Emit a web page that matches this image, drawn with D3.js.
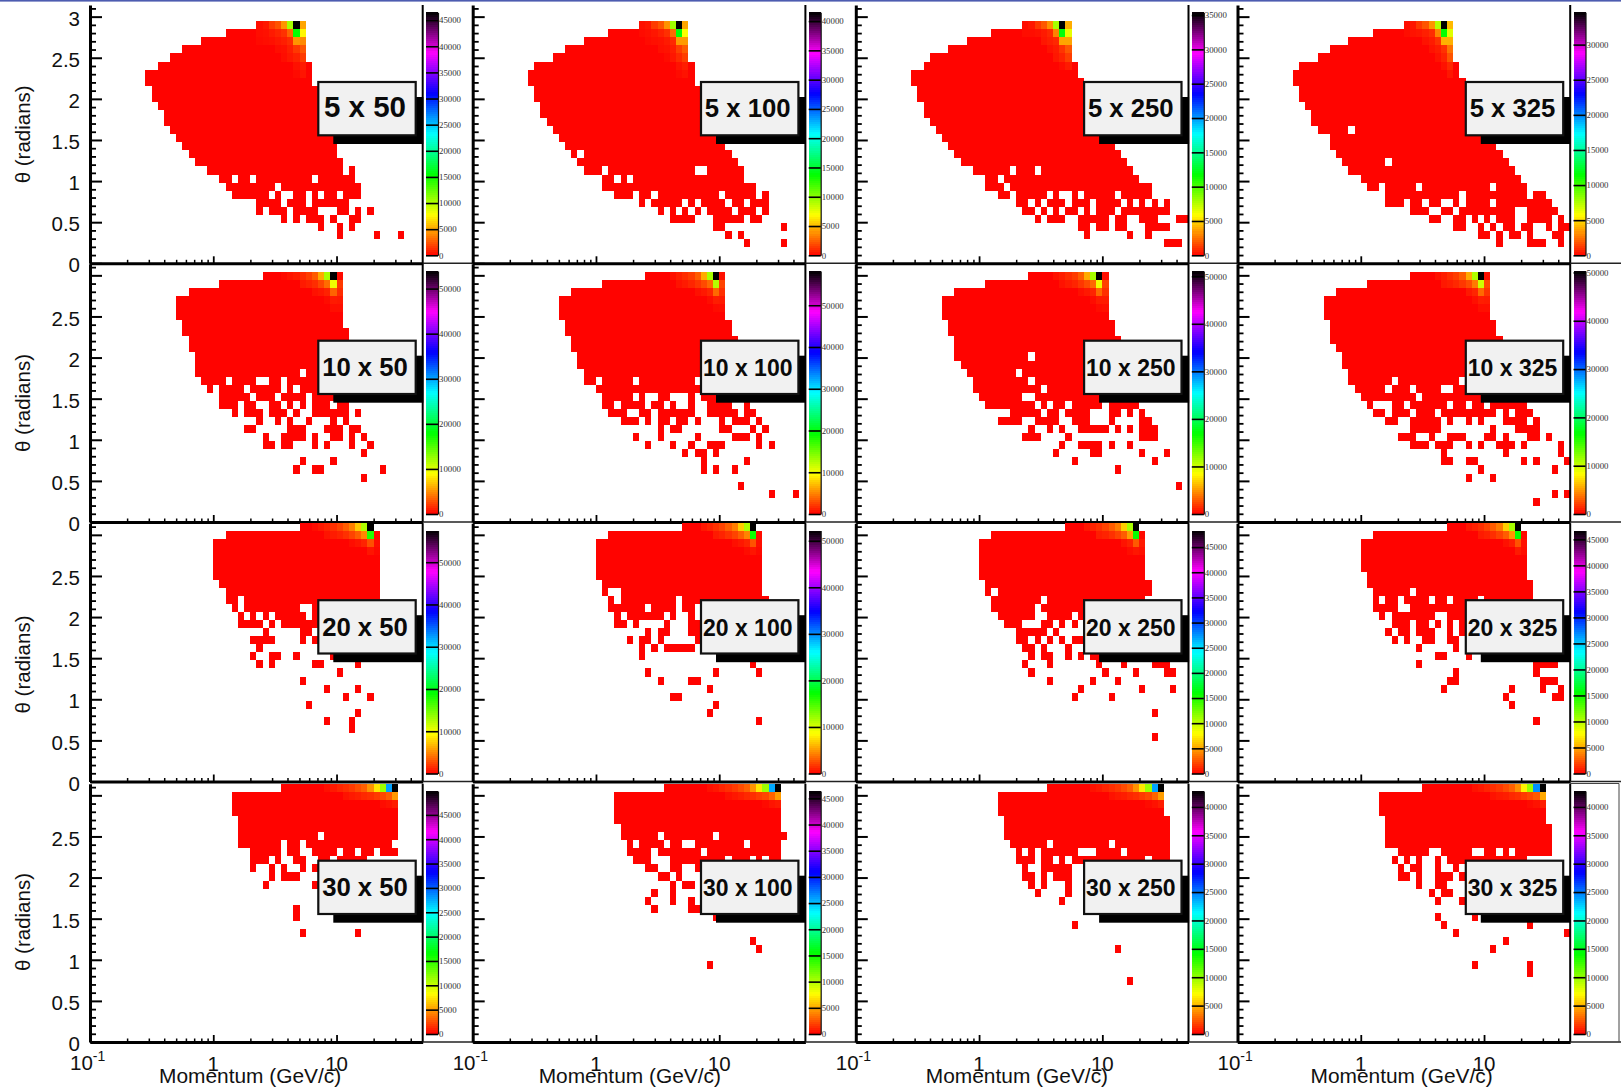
<!DOCTYPE html>
<html>
<head>
<meta charset="utf-8">
<script src="https://cdn.jsdelivr.net/npm/d3@7"></script>
<style>
body { margin: 0; background: #fff; }
svg { display: block; font-family: "Liberation Sans", sans-serif; }
</style>
</head>
<body>
<svg id="chart" width="1621" height="1088"></svg>
<script>
var labels = ["5 x 50", "5 x 100", "5 x 250", "5 x 325", "10 x 50", "10 x 100", "10 x 250", "10 x 325",
	"20 x 50", "20 x 100", "20 x 250", "20 x 325", "30 x 50", "30 x 100", "30 x 250", "30 x 325"];
var zMax = [46500, 41500, 35400, 34600, 53900, 58200, 51100, 50300, 57500, 52200, 48300, 46700, 49900, 46400, 42800, 42800];
var zStep = [5000, 5000, 5000, 5000, 10000, 10000, 10000, 10000, 10000, 10000, 5000, 5000, 5000, 5000, 5000, 5000];
var thetaTicks = [0, 0.5, 1, 1.5, 2, 2.5, 3];
var thetaMinor = [0.1, 0.2, 0.3, 0.4, 0.6, 0.7, 0.8, 0.9, 1.1, 1.2, 1.3, 1.4, 1.6, 1.7, 1.8, 1.9, 2.1, 2.2, 2.3, 2.4, 2.6, 2.7, 2.8, 2.9, 3.1];
var momentumTicks = [0.1, 1, 10];
var momentumMinor = [0.2, 0.3, 0.4, 0.5, 0.6, 0.7, 0.8, 0.9, 2, 3, 4, 5, 6, 7, 8, 9, 20, 30, 40];

// filled bins: [theta row, from col, to col, from col, to col, ...]
var spans_5x50 = [[29,27,34],[28,22,34],[27,18,34],[26,15,34],[25,13,34],[24,11,35],[23,9,35],[22,9,35],[21,10,38],[20,10,38],[19,11,39],[18,12,39],[17,12,39],[16,13,39],[15,14,39],[14,15,39],[13,16,39],[12,17,40],[11,19,40,42,42],[10,21,22,24,25,27,35,37,42],[9,22,29,31,43],[8,23,28,30,30,33,34,36,36,38,39,41,43],[7,27,30,32,34,36,41],[6,27,27,29,31,33,36,40,41,43,43,45,45],[5,31,31,33,33,35,37,39,39,42,43],[4,37,37,40,40,42,42],[3,40,40,46,46,50,50]];
var spans_5x100 = [[29,27,34],[28,22,34],[27,18,34],[26,15,34],[25,13,34],[24,10,35],[23,9,35],[22,9,35],[21,10,38],[20,10,38],[19,11,39],[18,11,39],[17,12,39],[16,13,39],[15,14,39],[14,15,40],[13,16,16,18,41],[12,17,42],[11,18,20,22,35,38,43],[10,21,22,24,24,26,43],[9,21,45],[8,23,25,27,28,30,39,41,45,47,47],[7,27,27,29,33,35,35,37,40,42,43,45,47],[6,30,30,32,32,34,34,36,36,38,41,43,45,47,47],[5,32,35,39,43,45,46],[4,39,40,50,50],[3,41,41,43,43],[2,44,44,50,50]];
var spans_5x250 = [[29,27,34],[28,22,34],[27,18,34],[26,15,34],[25,12,34],[24,11,35],[23,9,35],[22,9,36],[21,10,38],[20,10,38],[19,11,39],[18,11,39],[17,12,39],[16,13,39],[15,14,40],[14,15,41],[13,16,42],[12,17,43],[11,19,24,26,28,30,44],[10,21,22,24,45],[9,21,23,25,47],[8,23,24,26,30,32,32,35,35,37,41,43,47],[7,26,27,29,29,31,33,35,37,39,42,44,44,46,46,48,48,50,50],[6,27,28,30,30,32,32,34,35,37,37,39,41,43,50],[5,29,29,31,33,36,40,42,43,46,48,52,53],[4,36,37,39,40,42,43,47,50],[3,37,37,44,44,47,47],[2,50,52]];
var spans_5x325 = [[29,27,34],[28,22,34],[27,18,34],[26,15,34],[25,13,34],[24,10,35],[23,9,35],[22,9,36],[21,10,38],[20,10,38],[19,11,39],[18,12,39],[17,12,39],[16,13,17,19,39],[15,15,39],[14,15,41],[13,16,42],[12,17,23,25,43],[11,18,44],[10,20,45],[9,21,22,24,28,30,40,42,46],[8,24,35,37,46,48,49],[7,24,26,28,29,31,32,35,35,37,40,42,50],[6,28,30,33,34,36,44,47,51],[5,31,32,35,36,38,38,40,40,42,44,47,50,52,52],[4,35,36,39,39,41,41,43,44,46,47,50,50,52,53],[3,39,40,42,42,44,45,47,47,51,52],[2,42,42,47,49,52,52]];
var spans_10x50 = [[30,28,40],[29,21,40],[28,16,40],[27,14,40],[26,14,40],[25,14,40],[24,15,40],[23,15,41],[22,16,41],[21,16,41],[20,17,42],[19,17,42],[18,17,33,35,42],[17,18,21,23,26,29,30,32,42],[16,19,19,21,24,26,30,32,32,34,42],[15,21,25,27,29,31,34,36,42],[14,21,23,25,26,29,30,32,32,34,34,36,38,40,41],[13,23,23,25,27,29,31,33,33,36,41,43,43],[12,27,27,30,30,32,32,35,35,39,39,41,41],[11,25,26,32,34,38,40,42,43],[10,28,28,31,34,36,36,39,40,42,42,44,44],[9,28,29,31,32,36,36,38,38,42,42,45,45],[8,44,44],[7,34,34,39,39],[6,33,33,36,37,47,47],[5,44,44]];
var spans_10x100 = [[30,28,40],[29,21,40],[28,16,40],[27,14,40],[26,14,40],[25,14,40],[24,15,41],[23,15,41],[22,16,42],[21,16,42],[20,17,42],[19,17,42],[18,18,42],[17,18,19,21,25,27,35,37,42],[16,20,42],[15,21,25,27,27,30,31,35,35,37,42],[14,21,22,24,27,29,30,32,32,35,35,38,41,44,44],[13,22,24,27,28,30,35,38,42,44,45],[12,24,26,28,28,30,31,33,34,36,36,40,40,42,44,46,46],[11,30,30,32,33,40,41,45,45,47,47],[10,26,26,30,30,36,36,42,44,46,46],[9,28,28,32,32,35,35,38,40,46,46,48,48],[8,34,34,36,37,39,39],[7,37,37,44,44],[6,37,37,39,39,42,42],[4,43,43],[3,48,48,52,52]];
var spans_10x250 = [[30,28,40],[29,21,40],[28,16,40],[27,14,40],[26,14,40],[25,14,40],[24,15,41],[23,15,41],[22,16,42],[21,16,42],[20,16,27,29,42],[19,17,42],[18,18,25,27,42],[17,19,27,29,42],[16,19,29,31,42],[15,20,26,29,42],[14,21,28,30,30,32,33,35,39,41,45],[13,25,29,31,32,34,37,41,42,44,44,46,46],[12,23,26,29,32,35,37,41,41,46,47],[11,28,28,31,31,33,33,36,40,42,42,44,44,46,48],[10,27,29,34,34,46,48],[9,33,33,36,39,41,41,44,44],[8,32,32,38,39,46,46,50,50],[7,35,35,48,48],[6,42,42],[4,52,52]];
var spans_10x325 = [[30,28,40],[29,21,40],[28,16,40],[27,14,40],[26,14,40],[25,14,40],[24,15,41],[23,15,41],[22,15,42],[21,16,42],[20,17,42],[19,17,42],[18,18,42],[17,18,24,26,35,37,42],[16,19,23,25,27,29,32,35,42],[15,20,28,30,42],[14,21,21,25,26,28,33,35,36,38,39,41,46],[13,22,23,25,27,29,31,33,41,43,43,45,47],[12,24,25,28,32,34,34,37,37,39,39,43,45,46,46,48,48],[11,28,32,41,41,45,48],[10,26,28,31,31,34,36,40,41,43,43,47,48,50,50],[9,28,30,32,34,37,37,39,39,42,44,46,46,52,52],[8,33,33,43,43,52,52],[7,33,34,37,38,46,46,48,48,53,53],[6,39,39,51,51],[5,37,37,41,41],[3,51,51,53,53],[2,48,48]];
var spans_20x50 = [[31,34,45],[30,22,46],[29,20,46],[28,20,46],[27,20,46],[26,20,46],[25,20,46],[24,21,46],[23,22,46],[22,22,23,25,46],[21,23,23,25,33,36,46],[20,24,24,26,26,28,28,30,33,34,34,36,44],[19,24,27,29,29,31,33,34,42],[18,28,28,34,35],[17,26,29,34,34,36,36],[16,27,27],[15,26,26,29,30,33,33,39,39],[14,27,27,29,29,36,37,43,43],[13,40,40],[12,34,34],[11,38,38,43,43],[10,41,41,45,45],[9,35,35],[8,43,43],[7,38,38,42,42],[6,42,42]];
var spans_20x100 = [[31,34,45],[30,22,46],[29,20,46],[28,20,46],[27,20,46],[26,20,46],[25,20,46],[24,21,46],[23,21,21,24,46],[22,22,22,24,32,34,47],[21,22,27,29,32,34,35,37,46],[20,23,23,25,30,32,32,35,35,37,44],[19,23,24,26,26,31,31,35,36],[18,28,28,30,31,35,36],[17,25,25,27,28,30,30,36,36],[16,27,27,29,29,31,35],[15,27,27],[14,45,45],[13,28,28,39,39,46,46],[12,30,30,35,36],[11,38,38],[10,32,33],[9,39,39],[8,38,38],[7,46,46]];
var spans_20x250 = [[31,34,45],[30,22,46],[29,20,46],[28,20,46],[27,20,46],[26,20,46],[25,20,46],[24,21,47],[23,21,21,23,47],[22,22,29,31,46],[21,22,28,30,46],[20,23,28,31,34,36,46],[19,24,26,30,31,33,33,35,35,37,46],[18,26,30,32,32,37,44],[17,26,27,29,29,31,31,33,33,35,36],[16,27,28,30,30,34,34],[15,28,28,30,31,34,34,36,36,38,39],[14,27,27,31,31,39,39,43,43,48,50],[13,28,28,40,40,45,45,50,51],[12,31,31,38,38,42,42],[11,36,36,46,46,51,51],[10,35,35,41,41],[8,48,48],[5,48,48]];
var spans_20x325 = [[31,34,45],[30,22,46],[29,20,46],[28,20,46],[27,20,46],[26,20,46],[25,21,46],[24,21,47],[23,22,27,29,47],[22,22,22,24,25,27,30,32,33,35,38,40,47],[21,22,25,28,46],[20,23,23,25,31,34,46],[19,25,27,29,30,32,32,34,34,36,44],[18,24,24,26,27,29,31,34,34,36,44],[17,25,25,27,27,30,31,34,35,37,42],[16,29,29,35,35],[15,32,33,37,37],[14,29,29,48,51],[13,35,35,48,48],[12,34,35,49,51],[11,33,33,44,44,49,49,52,52],[10,43,43,51,52],[9,44,44],[7,48,48]];
var spans_30x50 = [[31,31,49],[30,23,49],[29,23,49],[28,23,49],[27,24,49],[26,24,49],[25,24,36,38,49],[24,24,30,32,33,35,48],[23,26,30,32,33,36,39,41,42,44,45,47,49],[22,26,28,30,30,33,34,37,38,40,44],[21,26,26,29,29,31,31,34,34,36,36],[20,29,29,31,33],[19,28,28,36,36],[17,37,37],[16,33,33],[15,33,33],[13,34,34,43,43]];
var spans_30x100 = [[31,31,49],[30,23,49],[29,23,49],[28,23,49],[27,23,49],[26,24,49],[25,24,29,31,38,40,50],[24,25,25,27,30,32,33,36,43,45,49],[23,25,28,30,36,38,49],[22,26,28,32,40,42,44,46,46,48,49],[21,28,29,32,33,36,44],[20,30,31,33,33],[19,32,32,34,35],[18,29,29,32,32],[17,28,28,32,32,35,35],[16,29,29,35,36],[15,39,39],[12,45,45],[11,46,46],[9,38,38]];
var spans_30x250 = [[31,31,49],[30,23,49],[29,23,49],[28,23,49],[27,24,50],[26,24,50],[25,24,50],[24,25,30,32,40,42,50],[23,26,26,28,28,30,35,39,42,44,50],[22,26,28,30,31,33,33,35,46,48,50],[21,27,27,30,34,37,46],[20,27,28,30,30,32,34,37,44],[19,28,28,30,30,34,34],[18,29,29,34,34],[17,33,33,37,37],[16,37,37],[14,35,35],[11,42,42],[7,44,44]];
var spans_30x325 = [[31,30,49],[30,23,49],[29,23,49],[28,23,49],[27,24,49],[26,24,50],[25,24,50],[24,24,50],[23,26,30,33,37,40,41,43,43,45,50],[22,25,25,27,27,29,29,32,32,34,46],[21,26,26,28,29,32,32,35,35,37,46],[20,26,27,29,29,32,34,36,44],[19,29,29,32,33],[18,31,31,33,34,37,42],[17,32,32,36,36],[15,32,32,38,38],[14,33,33,47,47],[13,35,35,53,53],[12,43,43],[11,41,41],[9,38,38,47,47],[8,47,47]];

// bins hot enough to show a colour: [theta row, first col, counts...]
var hot_5x50 = [[29,27,400,700,1800,2500,4500,10500,46500,5000],[28,27,400,500,800,1100,1500,3000,15500,7500],[27,27,300,400,500,700,900,1300,4500,4200],[26,30,400,500,900,1700,2600],[25,31,400,700,1000,1800],[24,33,500,800],[23,33,300,600]];
var hot_5x100 = [[29,27,400,600,1600,2300,4000,9500,41500,4500],[28,27,300,400,600,900,1300,2800,14000,7000],[27,28,300,400,500,700,1100,4200,4200],[26,30,400,500,800,1700,2500],[25,31,300,600,1100,1700],[24,33,500,800],[23,33,300,500]];
var hot_5x250 = [[29,27,300,500,1300,2000,3300,8000,35400,4000],[28,27,300,300,400,600,900,3000,12000,6500],[27,30,500,700,900,3800,3800],[26,31,400,600,1200,2000],[25,32,500,800,1400],[24,33,300,600]];
var hot_5x325 = [[29,27,300,500,1300,1900,3300,7500,34600,4200],[28,27,300,400,500,700,1000,3000,11500,6500],[27,30,400,600,1100,4000,4000],[26,31,400,600,1100,2600],[25,32,400,800,1900],[24,33,400,900],[23,34,500]];
var hot_10x50 = [[30,31,400,700,1000,1500,2200,3200,6000,12000,53900,300],[29,34,900,1200,1600,2500,3800,9500,2000],[28,36,600,800,1200,3500,1500],[27,38,400,900,800],[26,39,500,500]];
var hot_10x100 = [[30,32,700,1200,1700,2300,3500,6500,13000,58200,600],[29,33,700,1000,1400,2000,2800,4000,12500,2500],[28,36,600,900,1400,4000,1800],[27,38,500,1100,1000],[26,39,400,500]];
var hot_10x250 = [[30,32,600,1000,1500,2000,3100,5700,11500,51100,500],[29,33,600,900,1200,1800,2500,3500,9000,2200],[28,36,500,800,1200,3500,1600],[27,38,400,900,900],[26,39,400,500]];
var hot_10x325 = [[30,32,600,1000,1500,2000,3000,5600,11000,50300,500],[29,33,800,1000,1300,1800,2500,4000,10000,2400],[28,37,800,1200,3500,1700],[27,38,500,1000,900],[26,39,500,500]];
var hot_20x50 = [[31,36,500,900,1300,1800,2500,3500,4800,7500,12500,57500],[30,38,700,1000,1300,1800,2500,3500,5000,18000,300],[29,42,500,800,1300,3000,500],[28,45,800,300]];
var hot_20x100 = [[31,37,800,1200,1700,2300,3200,4300,7000,11500,52200],[30,39,900,1200,1700,2300,3200,4500,17000,400],[29,42,500,800,1200,2800,500],[28,44,400,700,300]];
var hot_20x250 = [[31,37,700,1100,1500,2100,2900,3900,6500,10800,48300],[30,39,900,1100,1500,2100,2900,5000,16000,300],[29,43,600,1000,2800,800],[28,44,400,700,500]];
var hot_20x325 = [[31,37,700,1000,1400,2000,2800,3800,6300,10500,46700],[30,39,800,1000,1400,2000,2800,4500,15500,300],[29,43,500,900,2500,500],[28,45,800,400]];
var hot_30x50 = [[31,38,500,800,1200,1500,1900,2500,3100,4800,7500,11500,28000,49900],[30,41,600,800,1000,1300,1500,1900,2300,3000,5000],[29,47,400,600,900]];
var hot_30x100 = [[31,38,500,700,1100,1400,1800,2300,2900,4500,7000,10700,25800,46400],[30,41,500,700,900,1200,1400,1800,2100,3000,4700],[29,47,300,600,800]];
var hot_30x250 = [[31,38,500,700,1000,1300,1600,2100,2700,4100,6500,9900,24000,42800],[30,41,500,700,800,1100,1300,1600,2000,2800,4400],[29,47,300,500,800]];
var hot_30x325 = [[31,38,500,700,1000,1300,1600,2100,2700,4000,6800,10000,24500,42800],[30,41,500,700,800,1100,1300,1600,2000,2500,4700],[29,47,300,500,800]];

var spansList = [spans_5x50, spans_5x100, spans_5x250, spans_5x325, spans_10x50, spans_10x100, spans_10x250, spans_10x325,
	spans_20x50, spans_20x100, spans_20x250, spans_20x325, spans_30x50, spans_30x100, spans_30x250, spans_30x325];
var hotList = [hot_5x50, hot_5x100, hot_5x250, hot_5x325, hot_10x50, hot_10x100, hot_10x250, hot_10x325,
	hot_20x50, hot_20x100, hot_20x250, hot_20x325, hot_30x50, hot_30x100, hot_30x250, hot_30x325];

var svg = d3.select("#chart");
var colLeft = [90, 472.7, 855.8, 1237.5];
var rowZero = [263.3, 522, 781.5, 1042];
var titleOffset = [-129, -119, -117, -120];
var momentumOffset = [69, 66, 70, 73];
var plotWidth = 332.7;
var plotHeight = 258.3;
var thetaBin = Math.PI / 32;
var logBin = 0.05;
var paletteStops = ["#ff0000", "#ffff00", "#00ff00", "#00ffff", "#0000ff", "#ff00ff", "#000000"];

svg.append("rect").attr("width", 1621).attr("height", 1.6).attr("fill", "#4d5cb0");

var xScale = d3.scaleLog().domain([0.1, 50]).range([0, plotWidth]);
var yScale = d3.scaleLinear().domain([0, Math.PI]).range([0, -plotHeight]);

function colEdge(col) {
	return xScale(Math.pow(10, -1 + col * logBin));
}

function drawPanel(idx) {
	var col = idx % 4, row = Math.floor(idx / 4);
	var left = colLeft[col], zero = rowZero[row];
	var g = svg.append("g").attr("transform", "translate(" + left + "," + zero + ")");
	var z = zMax[idx];

	var color = d3.scaleLinear()
		.domain(paletteStops.map(function (d, i) { return z * i / 6; }))
		.range(paletteStops);

	// expand the spans into cells, hot values go on top of the default low count
	var cells = {};
	spansList[idx].forEach(function (s) {
		for (var k = 1; k < s.length; k += 2) {
			for (var c = s[k]; c <= s[k + 1]; c++) {
				cells[s[0] + "_" + c] = { r: s[0], c: c, v: 100 };
			}
		}
	});
	hotList[idx].forEach(function (h) {
		for (var k = 2; k < h.length; k++) {
			var key = h[0] + "_" + (h[1] + k - 2);
			if (cells[key]) cells[key].v = h[k];
		}
	});

	g.append("g").attr("shape-rendering", "crispEdges")
		.selectAll("rect")
		.data(Object.values(cells))
		.enter().append("rect")
		.attr("x", function (d) { return colEdge(d.c); })
		.attr("width", function (d) { return colEdge(d.c + 1) - colEdge(d.c); })
		.attr("y", function (d) { return yScale((d.r + 1) * thetaBin); })
		.attr("height", function (d) { return yScale(d.r * thetaBin) - yScale((d.r + 1) * thetaBin); })
		.attr("fill", function (d) { return color(d.v); });

	// theta axis
	var yAxis = d3.axisLeft(yScale).tickValues(thetaTicks).tickSizeInner(-12).tickSizeOuter(0).tickPadding(10)
		.tickFormat(function (d) {
			if (col > 0 || (d == 3 && row > 0)) return "";
			return d;
		});
	var ya = g.append("g").call(yAxis);
	ya.selectAll("text").attr("font-size", 20.5).attr("font-family", "Liberation Sans").attr("fill", "#111").attr("dy", "0.42em");
	ya.selectAll(".tick line").attr("stroke", "#000").attr("stroke-width", 2);
	ya.select(".domain").attr("stroke", "#000").attr("stroke-width", 3);

	var yMinor = d3.axisLeft(yScale).tickValues(thetaMinor).tickSizeInner(-6).tickSizeOuter(0).tickFormat("");
	var ym = g.append("g").call(yMinor);
	ym.selectAll(".tick line").attr("stroke", "#000").attr("stroke-width", 1.8);
	ym.select(".domain").remove();

	// momentum axis
	var xAxis = d3.axisBottom(xScale).tickValues(momentumTicks.slice(1)).tickSizeInner(-7).tickSizeOuter(0).tickFormat("");
	var xa = g.append("g").call(xAxis);
	xa.selectAll(".tick line").attr("stroke", "#000").attr("stroke-width", 1.8);
	xa.select(".domain").attr("stroke", "#000").attr("stroke-width", 3);

	var xMinor = d3.axisBottom(xScale).tickValues(momentumMinor).tickSizeInner(-3.5).tickSizeOuter(0).tickFormat("");
	var xm = g.append("g").call(xMinor);
	xm.selectAll(".tick line").attr("stroke", "#000").attr("stroke-width", 1.5);
	xm.select(".domain").remove();

	// right edge of the frame and the thin run to the next pad
	g.append("line").attr("x1", plotWidth).attr("x2", plotWidth).attr("y1", -plotHeight).attr("y2", 0)
		.attr("stroke", "#000").attr("stroke-width", 2);
	g.append("line").attr("x1", plotWidth).attr("x2", (col < 3 ? colLeft[col + 1] - left : 1621 - left)).attr("y1", 0).attr("y2", 0)
		.attr("stroke", "#222").attr("stroke-width", 1.6);

	// colour bar
	var barH = 243, barX = 336, barW = 12, barBottom = -8;
	var zScale = d3.scaleLinear().domain([0, z]).range([barBottom, barBottom - barH]);
	var levels = d3.range(0, 120);
	g.append("g").attr("shape-rendering", "crispEdges").selectAll("rect")
		.data(levels).enter().append("rect")
		.attr("x", barX)
		.attr("width", barW)
		.attr("y", function (d) { return zScale((d + 1) * z / levels.length); })
		.attr("height", function (d) { return zScale(d * z / levels.length) - zScale((d + 1) * z / levels.length) + 0.5; })
		.attr("fill", function (d) { return color((d + 0.5) * z / levels.length); });

	var zAxis = d3.axisRight(zScale).tickValues(d3.range(0, z, zStep[idx])).tickSizeInner(-barW).tickSizeOuter(0).tickPadding(1);
	var za = g.append("g").attr("transform", "translate(" + (barX + barW) + ",0)").call(zAxis);
	za.selectAll("text").attr("font-size", 8.8).attr("font-family", "Liberation Serif").attr("fill", "#333")
		.text(function (d) { return d; });
	za.selectAll(".tick line").attr("stroke", "#000").attr("stroke-width", 1.6);
	za.select(".domain").attr("stroke", "#111").attr("stroke-width", 1.2);

	// beam energy label with its black shadow
	var boxX = 228.3, boxY = -181.3, boxW = 97.4, boxH = 53.3;
	g.append("rect").attr("x", boxX + 15).attr("y", boxY + 15).attr("width", 90).attr("height", 47).attr("fill", "#000");
	g.append("rect").attr("x", boxX).attr("y", boxY).attr("width", boxW).attr("height", boxH)
		.attr("fill", "#f1f1f1").attr("stroke", "#111").attr("stroke-width", 2.2);
	var digits = labels[idx].replace(/ x /, "").length;
	g.append("text")
		.attr("x", boxX + boxW / 2 - 2)
		.attr("y", -146)
		.attr("text-anchor", "middle")
		.attr("font-weight", "bold")
		.attr("font-size", digits == 3 ? 29.5 : digits == 4 ? 25.7 : 23)
		.attr("fill", "#0a0a0a")
		.text(labels[idx]);

	// theta title on the first column
	if (col == 0) {
		g.append("text")
			.attr("transform", "translate(" + (-60) + "," + titleOffset[row] + ") rotate(-90)")
			.attr("text-anchor", "middle")
			.attr("font-size", 20.5)
			.attr("fill", "#111")
			.text("θ (radians)");
	}

	// momentum labels on the bottom row
	if (row == 3) {
		var tickY = 29;
		var t = g.append("text").attr("x", xScale(0.1) - 20).attr("y", tickY - 1).attr("font-size", 20.5).attr("fill", "#111");
		t.append("tspan").text("10");
		t.append("tspan").attr("font-size", 14).attr("dy", -9).text("-1");
		g.append("text").attr("x", xScale(1)).attr("y", tickY).attr("text-anchor", "middle").attr("font-size", 20.5).attr("fill", "#111").text("1");
		g.append("text").attr("x", xScale(10)).attr("y", tickY).attr("text-anchor", "middle").attr("font-size", 20.5).attr("fill", "#111").text("10");
		g.append("text").attr("x", momentumOffset[col]).attr("y", 41).attr("font-size", 20.9).attr("fill", "#111").text("Momentum (GeV/c)");
	}
}

for (var i = 0; i < labels.length; i++) {
	drawPanel(i);
}

// the grey edge of the last pad
svg.append("path").attr("d", "M1570,783.5H1619V1042").attr("fill", "none").attr("stroke", "#444").attr("stroke-width", 1);
</script>
</body>
</html>
